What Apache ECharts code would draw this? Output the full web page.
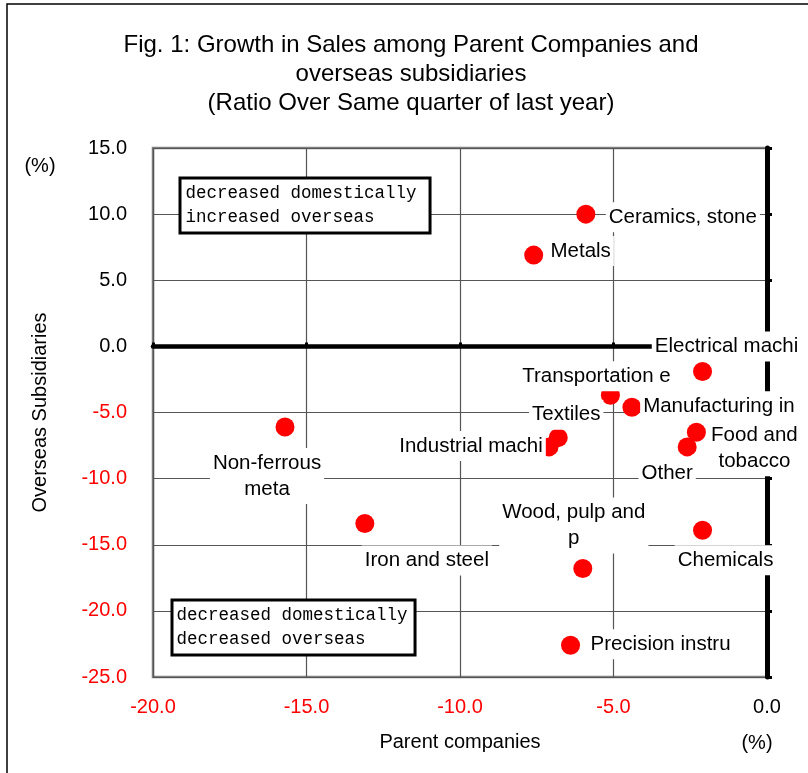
<!DOCTYPE html>
<html><head><meta charset="utf-8">
<script src="https://cdn.jsdelivr.net/npm/echarts@6/dist/echarts.min.js"></script>
<style>html,body{margin:0;padding:0;background:#fff}#c{width:808px;height:773px}</style>
</head><body><div id="c"></div>
<script>
// ---- data ----
const industries = ["Ceramics, stone","Metals","Electrical machi","Transportation e","Manufacturing in","Textiles","Industrial machi","Food and\ntobacco","Other","Non-ferrous\nmeta","Iron and steel","Wood, pulp and\np","Chemicals","Precision instru"];
const parentGrowth   = [-5.9, -7.6, -2.1, -5.1, -4.4, -6.8, -7.1, -2.3, -2.6, -15.7, -13.1, -6.0, -2.1, -6.4];
const overseasGrowth = [10.0,  6.9, -1.9, -3.7, -4.6, -6.9, -7.6, -6.5, -7.6,  -6.1, -13.4, -16.8, -13.9, -22.6];
const xTicks = [-20, -15, -10, -5, 0];
const yTicks = [15, 10, 5, 0, -5, -10, -15, -20, -25];
const titleLines = ["Fig. 1: Growth in Sales among Parent Companies and", "overseas subsidiaries", "(Ratio Over Same quarter of last year)"];
const quadrantNotes = ["decreased domestically\nincreased overseas", "decreased domestically\ndecreased overseas"];

// ---- label placement (style only: label centre relative to its point, px) ----
const labelOffsets = {
  "Ceramics, stone": [97, 3],
  "Metals": [47, -4],
  "Electrical machi": [24, -25],
  "Transportation e": [-14, -19],
  "Manufacturing in": [87, -1],
  "Textiles": [8, -23],
  "Industrial machi": [-78, -1],
  "Food and\ntobacco": [58, 16],
  "Other": [-20, 26],
  "Non-ferrous\nmeta": [-18, 49],
  "Iron and steel": [62, 37],
  "Wood, pulp and\np": [-9, -43],
  "Chemicals": [23, 30],
  "Precision instru": [90, -1]
};

const FONT = '"Liberation Sans", Arial, sans-serif';
const chart = echarts.init(document.getElementById('c'));
const xMin = xTicks[0], xMax = xTicks[xTicks.length - 1];
const yMin = yTicks[yTicks.length - 1], yMax = yTicks[0];
const step = 5;
const tickColor = v => (v < 0 ? '#ff0000' : '#000000');

const points = industries.map((n, i) => ({
  name: n,
  value: [parentGrowth[i], overseasGrowth[i]],
  label: { offset: labelOffsets[n] }
}));

chart.setOption({
  animation: false,
  backgroundColor: '#fff',
  grid: { left: 153, right: 41, top: 148, bottom: 96, show: true, borderColor: '#808080', borderWidth: 2.5, backgroundColor: 'transparent' },
  xAxis: [
    {
      type: 'value', min: xMin, max: xMax, interval: step, position: 'bottom',
      axisLine: { show: false, onZero: false }, axisTick: { show: false },
      splitLine: { show: true, lineStyle: { color: '#555', width: 1.2 } },
      axisLabel: { margin: 20, fontSize: 20, fontFamily: FONT, color: tickColor, formatter: v => v.toFixed(1), showMinLabel: true, showMaxLabel: true },
      name: 'Parent companies', nameLocation: 'middle', nameGap: 55,
      nameTextStyle: { fontSize: 20, fontFamily: FONT, color: '#000' }
    },
    {
      type: 'value', min: xMin, max: xMax, interval: step, position: 'top',
      axisLine: { show: true, onZero: true, lineStyle: { color: '#000', width: 4.5 } },
      axisTick: { show: true, inside: false, length: 4, lineStyle: { color: '#000', width: 3 } },
      axisLabel: { show: false }, splitLine: { show: false }
    }
  ],
  yAxis: [
    {
      type: 'value', min: yMin, max: yMax, interval: step, position: 'left',
      axisLine: { show: false, onZero: false }, axisTick: { show: false },
      splitLine: { show: true, lineStyle: { color: '#555', width: 1.2 } },
      axisLabel: { margin: 26, fontSize: 20, fontFamily: FONT, color: tickColor, formatter: v => v.toFixed(1), showMinLabel: true, showMaxLabel: true },
      name: 'Overseas Subsidiaries', nameLocation: 'middle', nameGap: 103,
      nameTextStyle: { fontSize: 20, fontFamily: FONT, color: '#000' }
    },
    {
      type: 'value', min: yMin, max: yMax, interval: step, position: 'right',
      axisLine: { show: true, onZero: false, lineStyle: { color: '#000', width: 5 } },
      axisTick: { show: true, inside: false, length: 5, lineStyle: { color: '#000', width: 3 } },
      axisLabel: { show: false }, splitLine: { show: false }
    }
  ],
  series: [{
    type: 'scatter',
    xAxisIndex: 0, yAxisIndex: 0,
    symbol: 'circle', symbolSize: 19,
    itemStyle: { color: '#ff0000', opacity: 1 },
    label: {
      show: true, position: 'inside', formatter: p => p.name,
      color: '#000', fontSize: 20.5, fontFamily: FONT, lineHeight: 26,
      backgroundColor: '#fff', padding: [2, 3]
    },
    emphasis: { disabled: true },
    data: points,
    z: 5
  }],
  graphic: [
    { type: 'rect', silent: true, z: 100, shape: { x: 7, y: 4, width: 900, height: 900 }, style: { fill: 'none', stroke: '#000', lineWidth: 1.5 } },
    { type: 'text', silent: true, z: 100, x: 411, y: 31, style: { text: titleLines.join('\n'), font: '24px ' + FONT, fill: '#000', align: 'center', lineHeight: 29 } },
    { type: 'text', silent: true, z: 100, x: 40, y: 166, style: { text: '(%)', font: '20px ' + FONT, fill: '#000', align: 'center', verticalAlign: 'middle' } },
    { type: 'text', silent: true, z: 100, x: 757, y: 743, style: { text: '(%)', font: '20px ' + FONT, fill: '#000', align: 'center', verticalAlign: 'middle' } },
    { type: 'text', silent: true, z: 100, x: 181.5, y: 179.5, style: { text: quadrantNotes[0], font: '17.5px "Liberation Mono", monospace', fill: '#000', lineHeight: 24, backgroundColor: '#fff', borderColor: '#000', borderWidth: 3, padding: [2, 12, 2, 4] } },
    { type: 'text', silent: true, z: 100, x: 173.5, y: 601.5, style: { text: quadrantNotes[1], font: '17.5px "Liberation Mono", monospace', fill: '#000', lineHeight: 24, backgroundColor: '#fff', borderColor: '#000', borderWidth: 3, padding: [2, 6, 2, 3] } }
  ]
});
</script></body></html>
